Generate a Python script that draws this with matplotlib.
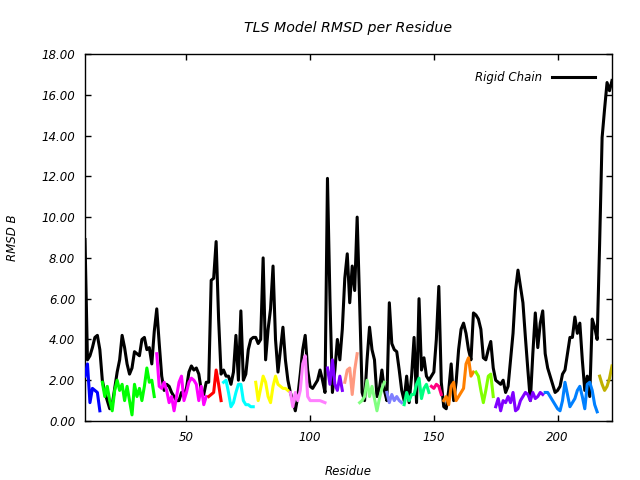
import numpy as np
import matplotlib
matplotlib.use('Agg')
import matplotlib.pyplot as plt

# residue numbers run from 9 to 222
first_res = 9

rigid_chain = [
    8.9, 3.0, 3.2, 3.6, 4.1, 4.2, 3.5, 2.0, 1.4, 1.0,   # 9-18
    0.6, 0.8, 1.6, 2.4, 3.0, 4.2, 3.6, 2.8, 2.3, 2.6,   # 19-28
    3.4, 3.3, 3.2, 4.0, 4.1, 3.5, 3.6, 2.8, 4.4, 5.5,   # 29-38
    3.8, 2.2, 1.5, 1.8, 1.7, 1.4, 1.2, 1.0, 1.0, 1.4,   # 39-48
    1.3, 1.6, 2.4, 2.7, 2.5, 2.6, 2.3, 1.5, 1.3, 1.9,   # 49-58
    1.9, 6.9, 7.0, 8.8, 5.0, 2.3, 2.5, 2.2, 2.2, 1.8,   # 59-68
    2.4, 4.2, 2.0, 5.4, 2.0, 2.3, 3.5, 4.0, 4.1, 4.1,   # 69-78
    3.8, 4.0, 8.0, 3.0, 4.5, 5.5, 7.6, 4.0, 2.4, 3.5,   # 79-88
    4.6, 3.0, 2.0, 1.4, 1.0, 0.5, 1.2, 2.3, 3.5, 4.2,   # 89-98
    2.5, 1.7, 1.6, 1.8, 2.0, 2.5, 2.0, 1.4, 11.9, 6.0,  # 99-108
    1.4, 2.5, 4.0, 3.0, 4.5, 7.0, 8.2, 5.8, 7.6, 6.4,   # 109-118
    10.0, 5.8, 1.4, 1.0, 3.0, 4.6, 3.5, 3.0, 1.2, 1.6,  # 119-128
    2.5, 1.5, 1.0, 5.8, 3.8, 3.5, 3.4, 2.5, 1.5, 1.0,   # 129-138
    2.2, 0.9, 2.2, 4.1, 0.9, 6.0, 2.5, 3.1, 2.2, 2.0,   # 139-148
    2.2, 2.4, 4.0, 6.6, 1.9, 0.7, 0.6, 1.5, 2.8, 1.0,   # 149-158
    1.9, 3.5, 4.5, 4.8, 4.3, 3.5, 3.0, 5.3, 5.2, 5.0,   # 159-168
    4.5, 3.1, 3.0, 3.5, 3.9, 2.6, 2.0, 1.9, 1.8, 2.0,   # 169-178
    1.4, 1.7, 3.0, 4.3, 6.4, 7.4, 6.6, 5.8, 4.1, 2.5,   # 179-188
    1.0, 3.3, 5.3, 3.6, 4.8, 5.4, 3.3, 2.6, 2.2, 1.8,   # 189-198
    1.4, 1.5, 1.7, 2.3, 2.5, 3.3, 4.1, 4.1, 5.1, 4.3,   # 199-208
    4.8, 3.0, 1.5, 2.2, 1.2, 5.0, 4.6, 4.0, 8.7, 13.9,  # 209-218
    15.3, 16.6, 16.2, 16.7,                             # 219-222
]

# TLS groups: first residue, colour, rmsd values
group_starts = [9, 16, 38, 59, 65, 78, 92, 107, 114, 120, 131, 138, 149, 154, 167, 175, 195, 217]
group_colors = ['#0000ff', '#00ff00', '#ff00ff', '#ff0000', '#00ffff', '#ffff00',
                '#ff80ff', '#8000ff', '#ff9980', '#80ff80', '#8080ff', '#00ff80',
                '#ff0080', '#ff8000', '#80ff00', '#8000ff', '#0080ff', '#bfb000']
group_values = [
    [2.2, 2.8, 0.9, 1.6, 1.5, 1.4, 0.5],
    [1.9, 1.2, 1.7, 1.0, 0.5, 1.5, 2.0, 1.5, 1.8, 1.0, 1.7, 1.0, 0.3, 1.8, 1.2,
     1.6, 1.0, 1.7, 2.6, 1.9, 2.0, 1.2],
    [3.3, 1.7, 1.6, 1.9, 1.5, 0.9, 1.2, 0.5, 1.2, 1.9, 2.2, 1.0, 1.4, 1.9, 2.1,
     2.0, 1.8, 1.0, 1.7, 0.8, 1.2],
    [1.2, 1.3, 1.4, 2.5, 1.8, 1.0],
    [1.9, 2.0, 1.4, 0.7, 0.9, 1.4, 1.8, 1.8, 1.0, 0.8, 0.8, 0.7, 0.7],
    [1.9, 1.0, 1.6, 2.2, 1.9, 1.2, 0.9, 1.7, 2.2, 1.8, 1.7, 1.6, 1.6, 1.5],
    [1.4, 0.7, 1.4, 1.0, 1.5, 2.8, 3.2, 1.2, 1.0, 1.0, 1.0, 1.0, 1.0, 0.95, 0.9],
    [2.6, 1.8, 3.0, 1.8, 1.5, 2.2, 1.5],
    [1.9, 2.5, 2.6, 1.3, 2.5, 3.3],
    [0.9, 1.0, 1.2, 2.0, 1.2, 1.7, 1.1, 0.5, 1.1, 1.6, 1.9],
    [1.4, 0.9, 1.3, 1.0, 1.2, 1.0, 0.9],
    [0.8, 1.4, 1.0, 1.3, 1.3, 1.8, 2.1, 1.1, 1.6, 1.8, 1.4],
    [1.7, 1.6, 1.8, 1.7, 1.3],
    [1.0, 1.2, 0.8, 1.7, 1.9, 1.0, 1.2, 1.4, 1.6, 2.8, 3.1, 2.2, 2.4],
    [2.4, 2.2, 1.5, 0.9, 1.5, 2.2, 2.3, 1.2],
    [0.7, 1.1, 0.5, 1.0, 0.9, 1.2, 0.9, 1.4, 0.5, 0.6, 1.0, 1.2, 1.4, 1.3, 1.0,
     1.4, 1.1, 1.2, 1.4, 1.3],
    [1.4, 1.4, 1.2, 1.0, 0.8, 0.6, 0.5, 1.0, 1.9, 1.3, 0.7, 0.9, 1.1, 1.5, 1.7,
     1.2, 0.6, 1.8, 1.9, 1.5, 0.8, 0.45],
    [2.2, 1.8, 1.5, 1.7, 2.1, 2.7],
]

x_ticks = [50, 100, 150, 200]
y_ticks = [0, 2, 4, 6, 8, 10, 12, 14, 16, 18]

plt.rcParams['font.family'] = 'DejaVu Sans'
plt.rcParams['font.style'] = 'italic'
plt.rcParams['font.size'] = 8.5

fig = plt.figure(figsize=(6.4, 4.8), dpi=100)
ax = fig.add_axes([85/640, 1 - 421/480, (612-85)/640, (421-54)/480])

res = np.arange(first_res, first_res + len(rigid_chain))
ax.plot(res, rigid_chain, color='black', lw=2.2, label='Rigid Chain', zorder=2)

for start, col, vals in zip(group_starts, group_colors, group_values):
    gx = np.arange(start, start + len(vals))
    ax.plot(gx, vals, color=col, lw=2.2, zorder=3)

ax.set_xlim(res[0], res[-1])
ax.set_ylim(0, 18)
ax.set_xticks(x_ticks)
ax.set_yticks(y_ticks)
ax.set_yticklabels(['%.2f' % v for v in y_ticks])
ax.tick_params(direction='in', length=4.5, width=1, top=True, right=True, pad=7)
for sp in ax.spines.values():
    sp.set_linewidth(1.0)

ax.set_title('TLS Model RMSD per Residue', pad=16)
ax.set_xlabel('Residue', labelpad=15)
ax.set_ylabel('RMSD B', labelpad=16)

leg = ax.legend(loc='upper right', frameon=False, handlelength=3.6,
                markerfirst=False, borderaxespad=1.05, handletextpad=0.9)

plt.savefig('out.png', dpi=100)
